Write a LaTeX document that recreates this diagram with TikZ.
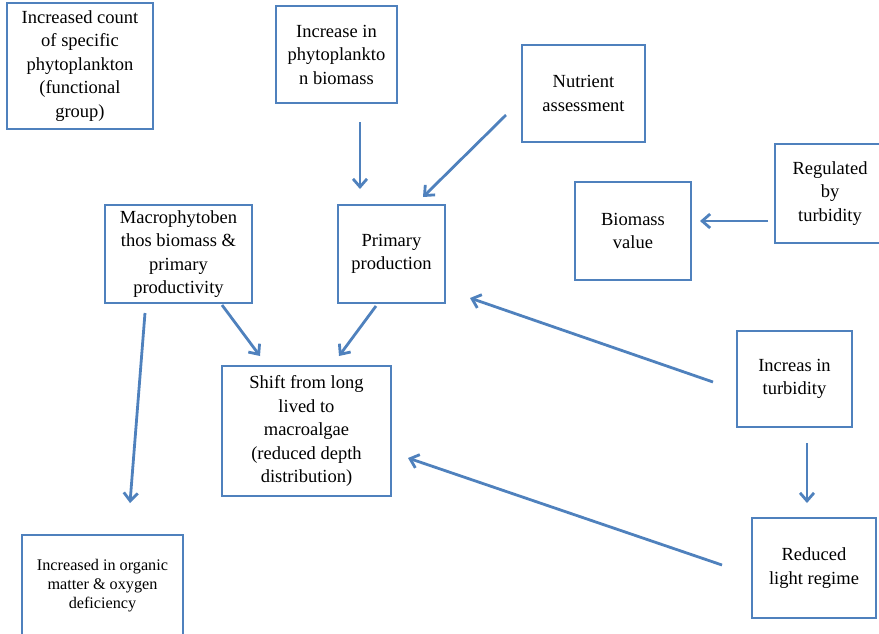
\documentclass[tikz,border=0pt]{standalone}
\usepackage{fontspec}
\setmainfont{Liberation Serif}
\usetikzlibrary{arrows.meta}

\definecolor{boxblue}{RGB}{79,129,189}

\tikzset{
	blk/.style={draw=boxblue, line width=2.8pt, align=center, inner sep=0pt,
		font=\fontsize{18.5}{23.5}\selectfont},
	arr/.style={draw=boxblue, line width=2.8pt,
		-{Straight Barb[length=8pt,width=14pt]}},
}

\begin{document}
\begin{tikzpicture}[x=1pt,y=-1pt]
	\useasboundingbox (0,0) rectangle (879,633);
	\clip (0,0) rectangle (879,633);

	%boxes, top row
	\node[blk, minimum width=146pt, minimum height=126pt] (cnt) at (80,66)
		{\rule{0pt}{8pt}Increased count\\of specific\\phytoplankton\\(functional\\group)};
	\node[blk, minimum width=121pt, minimum height=97pt] (phy) at (336.5,54.5)
		{Increase in\\phytoplankto\\n biomass};
	\node[blk, minimum width=123pt, minimum height=97pt] (nut) at (583.5,93.5)
		{Nutrient\\assessment};
	\node[blk, minimum width=110pt, minimum height=99pt] (reg) at (830,193.5)
		{Regulated\\by\\turbidity};
	\node[blk, minimum width=116pt, minimum height=98pt] (bio) at (633,231)
		{Biomass\\value};

	%boxes, middle
	\node[blk, minimum width=147pt, minimum height=98pt] (mac) at (178.5,254)
		{Macrophytoben\\thos biomass \&\\primary\\productivity};
	\node[blk, minimum width=107pt, minimum height=98pt] (pri) at (391.5,254)
		{Primary\\production};
	\node[blk, minimum width=169pt, minimum height=130pt] (shi) at (306.5,431)
		{Shift from long\\lived to\\macroalgae\\(reduced depth\\distribution)};
	\node[blk, minimum width=115pt, minimum height=96pt] (tur) at (794.5,379)
		{Increas in\\turbidity};

	%boxes, bottom
	\node[blk, minimum width=124pt, minimum height=100pt] (red) at (814,568)
		{Reduced\\light regime};
	\node[blk, minimum width=161pt, minimum height=102pt,
		font=\fontsize{16.2}{19}\selectfont] (org) at (102.5,586)
		{Increased in organic\\matter \& oxygen\\deficiency};

	%arrow ends
	\coordinate (phy-s) at (360,122);	\coordinate (pri-t) at (360,189);
	\coordinate (nut-s) at (506,115);	\coordinate (pri-t2) at (423,197);
	\coordinate (reg-s) at (768,221);	\coordinate (bio-t) at (700,221);
	\coordinate (mac-s) at (222,305);	\coordinate (shi-t) at (260,356);
	\coordinate (pri-s) at (376,306);	\coordinate (shi-t2) at (339,356);
	\coordinate (mac-s2) at (145,313);	\coordinate (org-t) at (130,503);
	\coordinate (tur-s) at (713,382);	\coordinate (pri-t3) at (470,298);
	\coordinate (tur-s2) at (807,443);	\coordinate (red-t) at (807,503);
	\coordinate (red-s) at (722,565);	\coordinate (shi-t3) at (408,458);

	%arrows
	\draw[arr] (phy-s) -- (pri-t);
	\draw[arr] (nut-s) -- (pri-t2);
	\draw[arr] (reg-s) -- (bio-t);
	\draw[arr] (mac-s) -- (shi-t);
	\draw[arr] (pri-s) -- (shi-t2);
	\draw[arr] (mac-s2) -- (org-t);
	\draw[arr] (tur-s) -- (pri-t3);
	\draw[arr] (tur-s2) -- (red-t);
	\draw[arr] (red-s) -- (shi-t3);
\end{tikzpicture}
\end{document}
